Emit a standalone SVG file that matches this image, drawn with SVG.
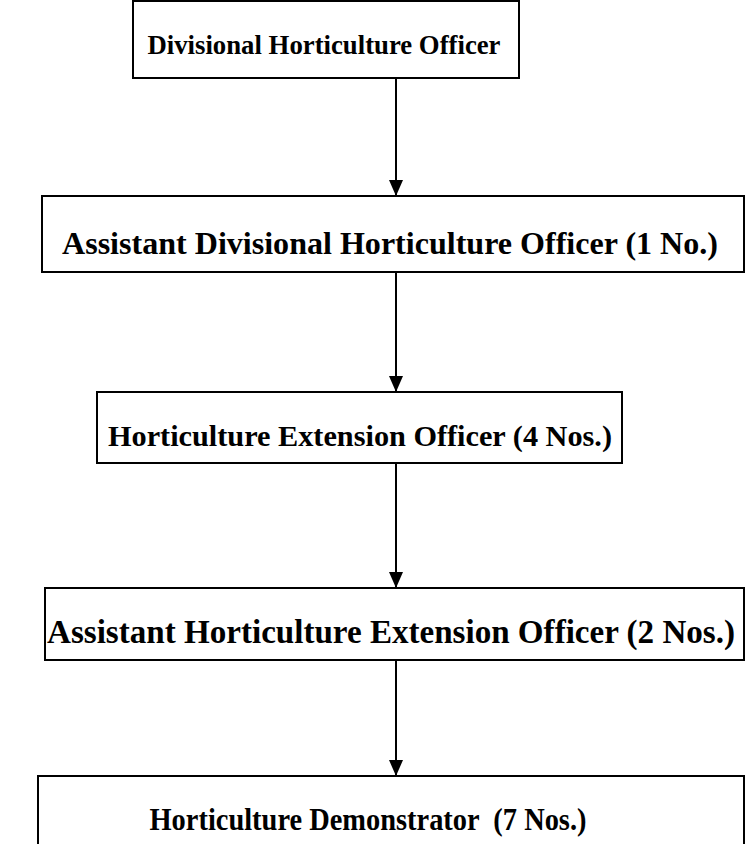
<svg xmlns="http://www.w3.org/2000/svg" width="745" height="844" viewBox="0 0 745 844">
  <style>
    .box { fill: #ffffff; stroke: #000000; stroke-width: 2; }
    .label { font-family: "Liberation Serif", "Times New Roman", serif; font-weight: bold; fill: #000000; text-anchor: middle; }
    .link { stroke: #000000; stroke-width: 2; fill: none; }
  </style>
  <defs>
    <marker id="arrowhead" markerWidth="16" markerHeight="14" refX="16" refY="7" orient="auto" markerUnits="userSpaceOnUse">
      <path d="M0,0 L16,7 L0,14 Z" fill="#000000"/>
    </marker>
  </defs>
  <rect width="745" height="844" fill="#ffffff"/>

  <g id="connectors">
    <line class="link" x1="396" y1="79" x2="396" y2="196" marker-end="url(#arrowhead)"/>
    <line class="link" x1="396" y1="272" x2="396" y2="392" marker-end="url(#arrowhead)"/>
    <line class="link" x1="396" y1="463" x2="396" y2="588" marker-end="url(#arrowhead)"/>
    <line class="link" x1="396" y1="660" x2="396" y2="776" marker-end="url(#arrowhead)"/>
  </g>

  <g id="divisional-officer">
    <rect class="box" x="133" y="1" width="386" height="77"/>
    <text class="label" x="324" y="54" font-size="28" textLength="353" lengthAdjust="spacingAndGlyphs">Divisional Horticulture Officer</text>
  </g>

  <g id="assistant-divisional-officer">
    <rect class="box" x="42" y="196" width="702" height="76"/>
    <text class="label" x="390" y="254" font-size="32" textLength="656" lengthAdjust="spacingAndGlyphs">Assistant Divisional Horticulture Officer (1 No.)</text>
  </g>

  <g id="extension-officer">
    <rect class="box" x="97" y="392" width="525" height="71"/>
    <text class="label" x="360" y="446" font-size="29" textLength="504" lengthAdjust="spacingAndGlyphs">Horticulture Extension Officer (4 Nos.)</text>
  </g>

  <g id="assistant-extension-officer">
    <rect class="box" x="45" y="588" width="699" height="72"/>
    <text class="label" x="391" y="643" font-size="33" textLength="688" lengthAdjust="spacingAndGlyphs">Assistant Horticulture Extension Officer (2 Nos.)</text>
  </g>

  <g id="demonstrator">
    <rect class="box" x="38" y="776" width="706" height="80"/>
    <text class="label" x="368" y="830" font-size="32" textLength="437" lengthAdjust="spacingAndGlyphs" xml:space="preserve">Horticulture Demonstrator  (7 Nos.)</text>
  </g>
</svg>
